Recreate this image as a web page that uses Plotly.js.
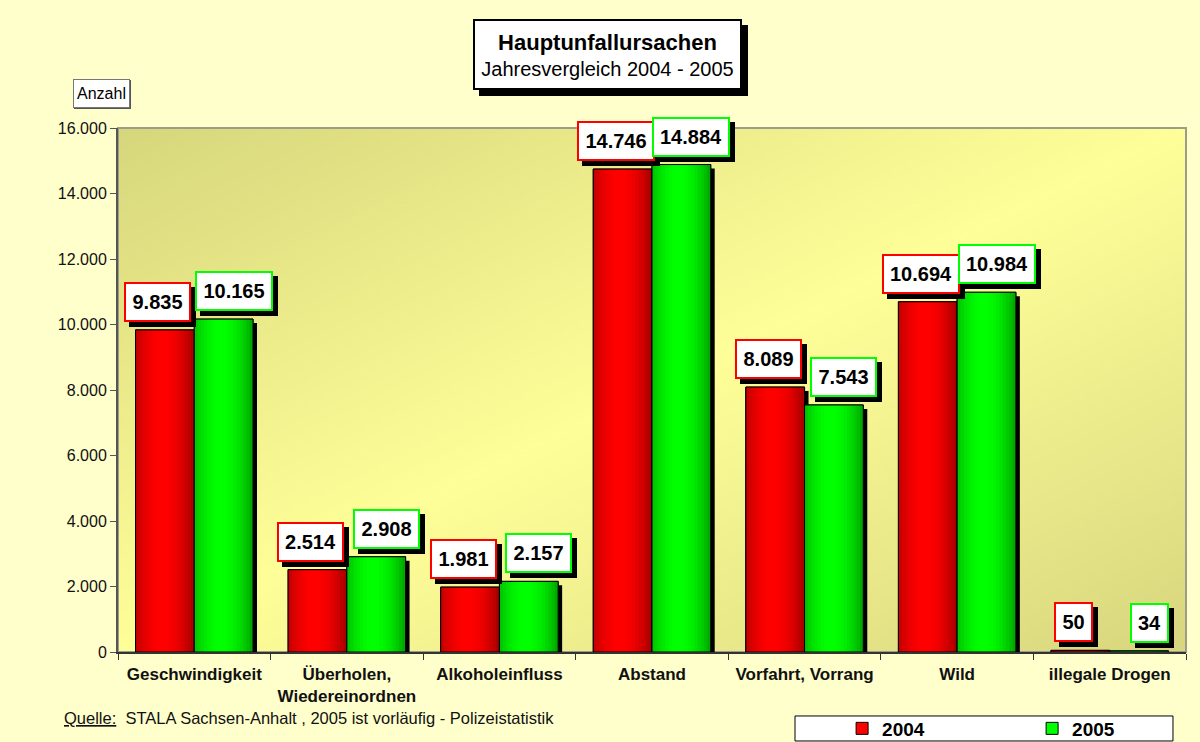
<!DOCTYPE html>
<html>
<head>
<meta charset="utf-8">
<script src="https://cdn.plot.ly/plotly-3.0.1.min.js"></script>
<style>
  html, body { margin: 0; padding: 0; background: #FFFFCC; }
  #chart { width: 1200px; height: 742px; }
</style>
</head>
<body>
<div id="chart"></div>
<script>
// ---- data ----
const categories = ['Geschwindigkeit', 'Überholen,<br>Wiedereinordnen', 'Alkoholeinfluss', 'Abstand', 'Vorfahrt, Vorrang', 'Wild', 'illegale Drogen'];
const values2004 = [9835, 2514, 1981, 14746, 8089, 10694, 50];
const values2005 = [10165, 2908, 2157, 14884, 7543, 10984, 34];
const seriesNames = ['2004', '2005'];
const chartTitle = 'Hauptunfallursachen';
const chartSubtitle = 'Jahresvergleich 2004 - 2005';
const yAxisLabel = 'Anzahl';
const sourceNote = '<u>Quelle:</u>  STALA Sachsen-Anhalt , 2005 ist vorläufig - Polizeistatistik';

// ---- styling ----
const FONT = 'Arial, "Liberation Sans", Helvetica, sans-serif';
const BAR_W = 0.385;          // bar width in category units
const SHADOW_DX = 0.026;      // shadow shift (category units)
const SHADOW_DY = 122;        // shadow drop (value units)
const N_STRIPS = 18;
const LABEL_SIZE = 20;

const series = [
  { name: seriesNames[0], values: values2004, offset: -BAR_W, dark: [160, 0, 0], bright: [255, 0, 0], border: '#FF0000', labelShift: -7 },
  { name: seriesNames[1], values: values2005, offset: 0, dark: [0, 160, 0], bright: [0, 255, 0], border: '#00FF00', labelShift: 10 }
];

function fmt(v) { return String(v).replace(/\B(?=(\d{3})+(?!\d))/g, '.'); }
function rgb(c) { return 'rgb(' + c.map(Math.round).join(',') + ')'; }
function labelWidth(s) {
  // bold Arial advance widths: digits 0.556em, dot 0.278em
  let w = 0;
  for (const ch of s) w += (ch === '.' ? 0.278 : 0.556) * LABEL_SIZE;
  return Math.ceil(w) + 2;
}

const traces = [];
const annotations = [];

series.forEach(s => {
  // drop shadow
  traces.push({
    type: 'bar', x: categories, y: s.values, base: -SHADOW_DY,
    offset: s.offset + SHADOW_DX, width: BAR_W,
    marker: { color: '#000000', line: { width: 0 } },
    showlegend: false, hoverinfo: 'skip'
  });
  // base bar (legend entry)
  traces.push({
    type: 'bar', name: s.name, x: categories, y: s.values,
    offset: s.offset, width: BAR_W,
    marker: { color: rgb(s.bright), line: { color: '#000000', width: 1 } },
    hoverinfo: 'skip'
  });
  // horizontal gradient strips
  const step = BAR_W / N_STRIPS;
  for (let k = 0; k < N_STRIPS; k++) {
    const t = (k + 0.5) / N_STRIPS;
    const f = Math.max(0, 1 - Math.pow((t - 0.45) / 0.55, 2));
    const col = s.dark.map((d, i) => d + (s.bright[i] - d) * f);
    traces.push({
      type: 'bar', x: categories, y: s.values,
      offset: s.offset + k * step, width: k === N_STRIPS - 1 ? step : step * 1.3,
      marker: { color: rgb(col), line: { width: 0 } },
      showlegend: false, hoverinfo: 'skip'
    });
  }
  // outline
  traces.push({
    type: 'bar', x: categories, y: s.values,
    offset: s.offset, width: BAR_W,
    marker: { color: 'rgba(0,0,0,0)', line: { color: '#000000', width: 1 } },
    showlegend: false, hoverinfo: 'skip'
  });
  // value labels (shadow box + label box)
  s.values.forEach((v, i) => {
    const txt = fmt(v);
    const common = {
      xref: 'x', yref: 'y', x: i + s.offset + BAR_W / 2, y: v,
      xanchor: 'center', yanchor: 'bottom', showarrow: false,
      width: labelWidth(txt), height: 26,
      font: { family: FONT, size: LABEL_SIZE, color: '#000000' },
      borderpad: 5, borderwidth: 2
    };
    annotations.push(Object.assign({}, common, {
      text: ' ', bgcolor: '#000000', bordercolor: '#000000',
      xshift: s.labelShift + 5, yshift: 3
    }));
    annotations.push(Object.assign({}, common, {
      text: '<b>' + txt + '</b>', bgcolor: '#FFFFFF', bordercolor: s.border,
      xshift: s.labelShift, yshift: 8
    }));
  });
});

// title box with shadow
const titleText = '<b><span style="font-size:22px">' + chartTitle + '</span></b><br>' + chartSubtitle;
const titleCommon = {
  xref: 'paper', yref: 'paper', x: 0.4583, y: 1.1403, xanchor: 'center', yanchor: 'middle',
  showarrow: false, width: 265, height: 67, borderpad: 0, borderwidth: 2,
  font: { family: FONT, size: 20, color: '#000000' }
};
annotations.unshift(
  Object.assign({}, titleCommon, { text: ' ', bgcolor: '#000000', bordercolor: '#000000', xshift: 6, yshift: -6 }),
  Object.assign({}, titleCommon, { text: titleText, bgcolor: '#FFFFFF', bordercolor: '#000000' })
);
// y-axis label box
annotations.push({
  xref: 'paper', yref: 'paper', x: -0.0155, y: 1.0658, xanchor: 'center', yanchor: 'middle',
  showarrow: false, text: ' ', width: 55, height: 27, borderpad: 0, borderwidth: 1,
  bgcolor: '#555555', bordercolor: '#555555', xshift: 1, yshift: -1
});
annotations.push({
  xref: 'paper', yref: 'paper', x: -0.0155, y: 1.0658, xanchor: 'center', yanchor: 'middle',
  showarrow: false, text: yAxisLabel, width: 55, height: 27, borderpad: 0, borderwidth: 1,
  bgcolor: '#FFFFFF', bordercolor: '#777777', font: { family: FONT, size: 16, color: '#000000' }
});
// source note
annotations.push({
  xref: 'paper', yref: 'paper', x: -0.0524, y: -0.126, xanchor: 'left', yanchor: 'middle',
  showarrow: false, text: sourceNote, font: { family: FONT, size: 16.5, color: '#111111' }
});

// plot-area gradient background (diagonal, light band from bottom-left to top-right)
const cv = document.createElement('canvas');
cv.width = 300; cv.height = 300;
const ctx = cv.getContext('2d');
const g = ctx.createLinearGradient(0, 0, 300, 300);
g.addColorStop(0, '#D6D67C');
g.addColorStop(0.5, '#FFFF99');
g.addColorStop(1, '#D8D67E');
ctx.fillStyle = g; ctx.fillRect(0, 0, 300, 300);

const layout = {
  width: 1200, height: 742,
  margin: { l: 118, r: 14, t: 128, b: 90, pad: 0, autoexpand: false },
  paper_bgcolor: '#FFFFCC',
  plot_bgcolor: 'rgba(0,0,0,0)',
  separators: ',.',
  barmode: 'overlay',
  font: { family: FONT, color: '#111111' },
  xaxis: {
    type: 'category', tickson: 'boundaries', ticks: 'outside', ticklen: 6, tickcolor: '#333333',
    showline: true, linecolor: '#333333', linewidth: 1.5, showgrid: false, zeroline: false,
    tickfont: { family: FONT, size: 17, weight: 'bold', color: '#111111' }, ticklabelstandoff: 6,
    automargin: false, fixedrange: true
  },
  yaxis: {
    range: [0, 16000], dtick: 2000, tickformat: ',.0f', ticks: 'outside', ticklen: 6, tickcolor: '#555555',
    showline: true, linecolor: '#555555', linewidth: 2, showgrid: false, zeroline: false,
    tickfont: { family: FONT, size: 16, color: '#111111' }, automargin: false, fixedrange: true
  },
  images: [{
    source: cv.toDataURL('image/png'), xref: 'paper', yref: 'paper', x: 0, y: 1,
    sizex: 1, sizey: 1, sizing: 'stretch', xanchor: 'left', yanchor: 'top', layer: 'below'
  }],
  shapes: [
    { type: 'rect', xref: 'paper', yref: 'paper', x0: 0, x1: 1, y0: 0, y1: 1,
      line: { color: '#9C9C8C', width: 2 }, fillcolor: 'rgba(0,0,0,0)', layer: 'below' },
    { type: 'rect', xref: 'paper', yref: 'paper', x0: 0.6339, x1: 0.9878, y0: -0.1698, y1: -0.1221,
      line: { color: '#000000', width: 1 }, fillcolor: '#FFFFFF', layer: 'above' }
  ],
  showlegend: true,
  legend: {
    orientation: 'h', x: 0.678, xanchor: 'left', y: -0.146, yanchor: 'middle',
    bgcolor: 'rgba(0,0,0,0)', borderwidth: 0, entrywidth: 145,
    font: { family: FONT, size: 19, weight: 'bold', color: '#000000' }
  },
  annotations: annotations
};

Plotly.newPlot('chart', traces, layout, { displayModeBar: false, staticPlot: true });
</script>
</body>
</html>
